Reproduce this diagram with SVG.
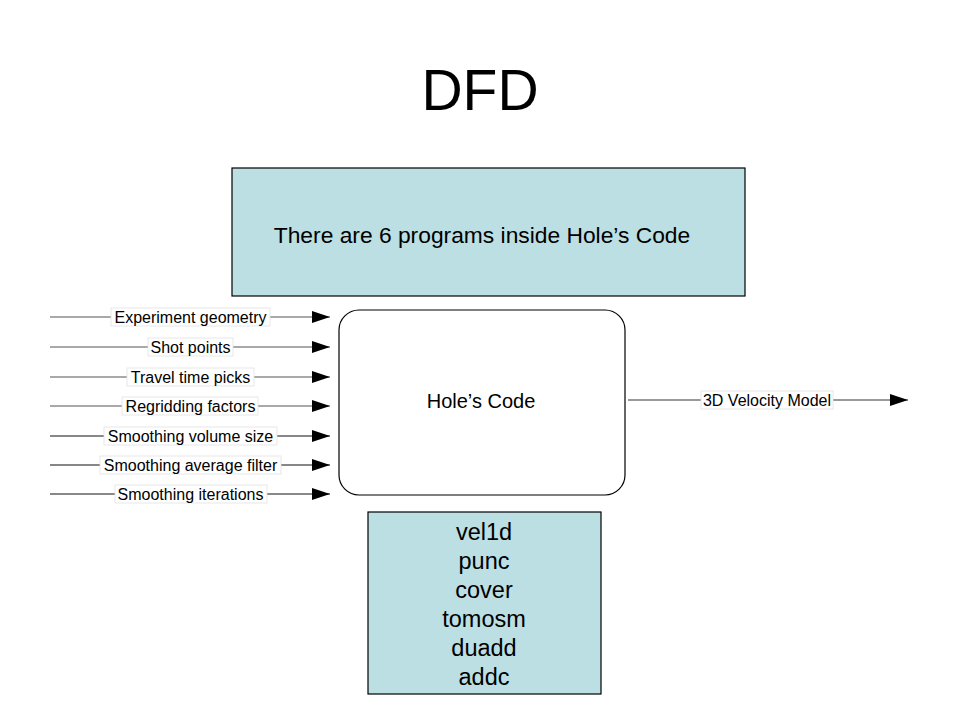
<svg xmlns="http://www.w3.org/2000/svg" width="960" height="720" viewBox="0 0 960 720">
<defs>
<marker id="ah" viewBox="0 0 18 12" refX="18" refY="6" markerWidth="18" markerHeight="12" markerUnits="userSpaceOnUse" orient="auto">
<path d="M0,0 L18,6 L0,12 Z" fill="#000"/>
</marker>
</defs>
<style>
text{font-family:"Liberation Sans",Arial,sans-serif;fill:#000}
.title{font-size:57px;text-anchor:middle}
.box{fill:#BBDFE3;stroke:#000;stroke-width:1.2}
.proc{fill:#fff;stroke:#000;stroke-width:1.2}
.big{font-size:22.8px;text-anchor:middle}
.mid{font-size:20px;text-anchor:middle}
.prog{font-size:23.5px;text-anchor:middle}
.ln{fill:none;stroke:#777;stroke-width:1.5;marker-end:url(#ah)}
.lbg{fill:#fff;stroke:#e2e2e2;stroke-width:0.8}
.lbl{font-size:16px;text-anchor:middle}
</style>
<rect width="960" height="720" fill="#fff"/>
<text class="title" x="480" y="110">DFD</text>
<g id="note">
<rect class="box" x="232" y="168" width="513" height="128"/>
<text class="big" x="482" y="243">There are 6 programs inside Hole’s Code</text>
</g>
<g id="holes-code">
<rect class="proc" x="339" y="310" width="286" height="185" rx="20" ry="20"/>
<text class="mid" x="481" y="408">Hole’s Code</text>
</g>
<g id="programs">
<rect class="box" x="368" y="512" width="233" height="182"/>
<text class="prog" x="484" y="540">vel1d</text>
<text class="prog" x="484" y="569">punc</text>
<text class="prog" x="484" y="598">cover</text>
<text class="prog" x="484" y="627">tomosm</text>
<text class="prog" x="484" y="656">duadd</text>
<text class="prog" x="484" y="685">addc</text>
</g>
<g id="connectors">
<line class="ln" x1="50" y1="317" x2="330" y2="317" style="stroke:#555;stroke-width:1.2"/>
<line class="ln" x1="50" y1="347" x2="330" y2="347" style="stroke:#555;stroke-width:1.2"/>
<line class="ln" x1="50" y1="377" x2="330" y2="377" style="stroke:#555;stroke-width:1.2"/>
<line class="ln" x1="50" y1="406" x2="330" y2="406" style="stroke:#555;stroke-width:1.2"/>
<line class="ln" x1="50" y1="436" x2="330" y2="436" style="stroke:#888;stroke-width:2"/>
<line class="ln" x1="50" y1="465" x2="330" y2="465" style="stroke:#111;stroke-width:1.2"/>
<line class="ln" x1="50" y1="494" x2="330" y2="494" style="stroke:#888;stroke-width:2"/>
<line class="ln" x1="628" y1="400" x2="908" y2="400" style="stroke:#999;stroke-width:2"/>
<rect class="lbg" x="111" y="308" width="159" height="18"/>
<text class="lbl" x="190.5" y="323">Experiment geometry</text>
<rect class="lbg" x="148" y="338" width="85" height="18"/>
<text class="lbl" x="190.5" y="353">Shot points</text>
<rect class="lbg" x="127" y="368" width="127" height="18"/>
<text class="lbl" x="190.5" y="383">Travel time picks</text>
<rect class="lbg" x="122" y="397" width="136" height="18"/>
<text class="lbl" x="190.5" y="412">Regridding factors</text>
<rect class="lbg" x="104" y="427" width="173" height="18"/>
<text class="lbl" x="190.5" y="442">Smoothing volume size</text>
<rect class="lbg" x="100" y="456" width="181" height="18"/>
<text class="lbl" x="190.5" y="471">Smoothing average filter</text>
<rect class="lbg" x="115" y="485" width="152" height="18"/>
<text class="lbl" x="190.5" y="500">Smoothing iterations</text>
<rect class="lbg" x="701" y="391" width="132" height="18"/>
<text class="lbl" x="767" y="406">3D Velocity Model</text>
</g>
</svg>
